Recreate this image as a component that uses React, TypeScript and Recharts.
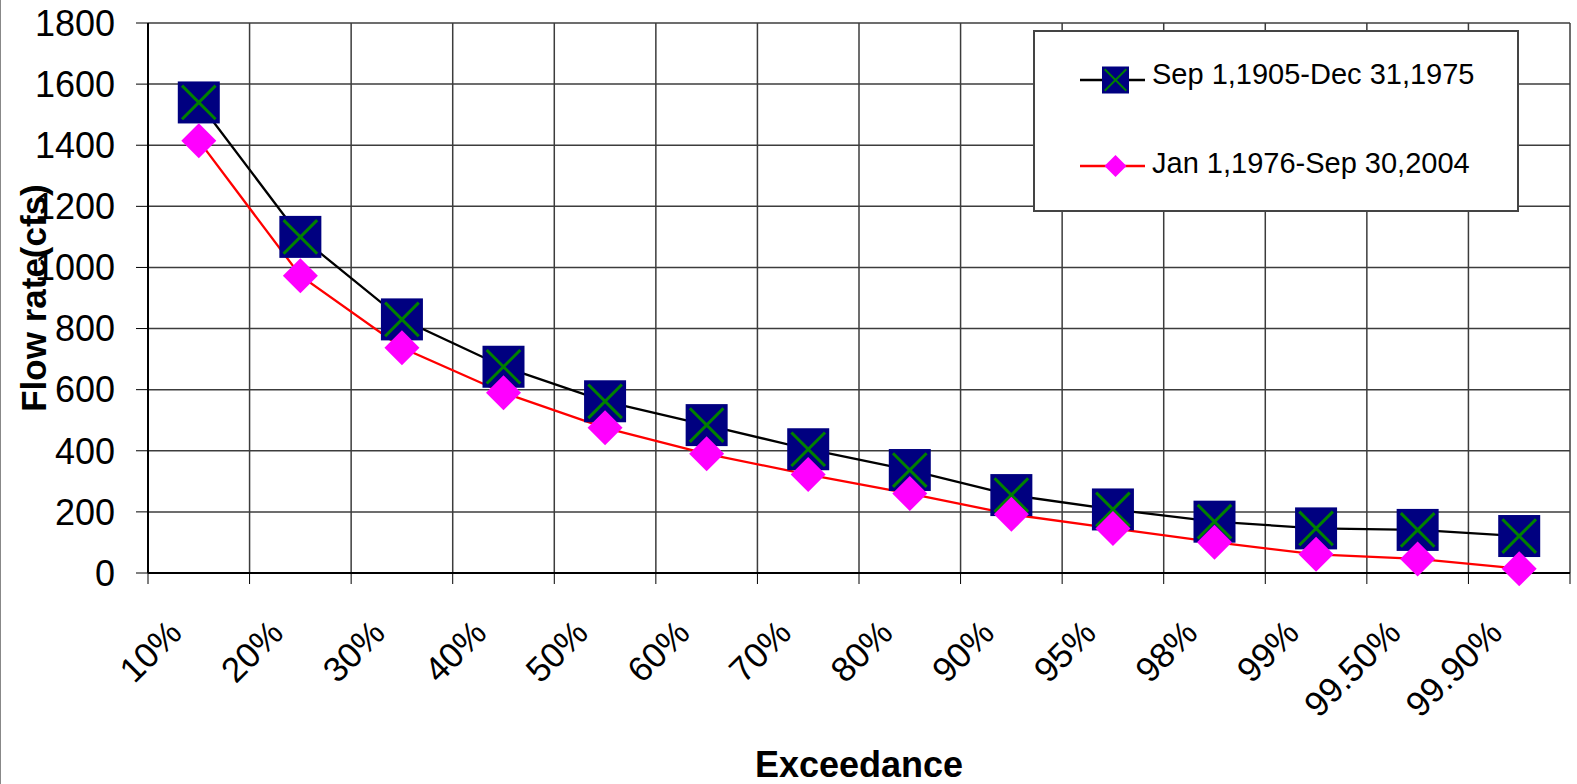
import { CartesianGrid, Legend, Line, LineChart, XAxis, YAxis } from 'recharts'

const EXCEEDANCE = ['10%', '20%', '30%', '40%', '50%', '60%', '70%', '80%', '90%', '95%', '98%', '99%', '99.50%', '99.90%']
const FLOW_1905_1975 = [1540, 1100, 830, 675, 562, 484, 405, 337, 255, 208, 168, 146, 141, 121]
const FLOW_1976_2004 = [1415, 973, 737, 590, 475, 390, 322, 260, 192, 146, 101, 61, 46, 14]
const FLOW_TICKS = [0, 200, 400, 600, 800, 1000, 1200, 1400, 1600, 1800]
const SERIES_NAMES = ['Sep 1,1905-Dec 31,1975', 'Jan 1,1976-Sep 30,2004']

const data = EXCEEDANCE.map((cat, i) => ({
  cat,
  early: FLOW_1905_1975[i],
  late: FLOW_1976_2004[i],
}))

const FONT = '"Liberation Sans", Arial, sans-serif'
const W = 1577
const H = 784
const MARGIN = { top: 23, right: 7, bottom: 0, left: 0 }
const Y_AXIS_W = 148
const X_AXIS_H = 211
const PLOT_W = W - MARGIN.left - MARGIN.right - Y_AXIS_W
const BAND = PLOT_W / EXCEEDANCE.length

function SquareX({ cx, cy, size }: { cx: number; cy: number; size: number }) {
  const h = size / 2
  const a = h * 0.8
  return (
    <g>
      <rect x={cx - h} y={cy - h} width={size} height={size} fill="#000080" />
      <path
        d={`M${cx - a},${cy - a}L${cx + a},${cy + a}M${cx - a},${cy + a}L${cx + a},${cy - a}`}
        stroke="#008000"
        strokeWidth={size / 14}
      />
    </g>
  )
}

function Diamond({ cx, cy, size }: { cx: number; cy: number; size: number }) {
  const h = size / 2
  return <path d={`M${cx},${cy - h}L${cx + h},${cy}L${cx},${cy + h}L${cx - h},${cy}Z`} fill="#FF00FF" />
}

// category labels sit under the band centre, tick marks on the band edges
function ExceedanceTick(props: any) {
  const { x, y, payload, index } = props
  const half = BAND / 2
  const tx = x - 15
  const ty = y + 62
  return (
    <g>
      <line x1={x - half} y1={y} x2={x - half} y2={y + 11} stroke="#000" />
      {index === EXCEEDANCE.length - 1 && (
        <line x1={x + half} y1={y} x2={x + half} y2={y + 11} stroke="#000" />
      )}
      <text
        x={tx}
        y={ty}
        textAnchor="end"
        transform={`rotate(-45 ${tx} ${ty})`}
        fontSize={35}
        fontFamily={FONT}
        fill="#000"
      >
        {payload.value}
      </text>
    </g>
  )
}

function LegendBox() {
  return (
    <svg width={486} height={182} style={{ display: 'block' }}>
      <rect x={1} y={1} width={484} height={180} fill="#fff" stroke="#444" strokeWidth={2} />
      <line x1={47} y1={50} x2={112} y2={50} stroke="#000" strokeWidth={2.3} />
      <SquareX cx={82.5} cy={50} size={27} />
      <text x={119} y={54} fontSize={29} fontFamily={FONT} fill="#000">
        {SERIES_NAMES[0]}
      </text>
      <line x1={47} y1={136} x2={112} y2={136} stroke="#FF0000" strokeWidth={2.3} />
      <Diamond cx={82.5} cy={136} size={22} />
      <text x={119} y={143} fontSize={29} fontFamily={FONT} fill="#000">
        {SERIES_NAMES[1]}
      </text>
    </svg>
  )
}

export default function App() {
  return (
    <div style={{ position: 'absolute', left: 0, top: 0, width: W, height: H, background: '#fff' }}>
      <div style={{ position: 'absolute', left: 0, top: 0, width: 1, height: H, background: '#888' }} />
      <LineChart width={W} height={H} data={data} margin={MARGIN}>
        <CartesianGrid
          stroke="#3c3c3c"
          strokeWidth={1.5}
          verticalCoordinatesGenerator={({ offset }: any) =>
            Array.from({ length: EXCEEDANCE.length + 1 }, (_, k) => offset.left + (k * offset.width) / EXCEEDANCE.length)
          }
        />
        <XAxis
          dataKey="cat"
          scale="band"
          height={X_AXIS_H}
          interval={0}
          tickLine={false}
          tickSize={0}
          tickMargin={0}
          axisLine={{ stroke: '#000', strokeWidth: 2 }}
          tick={<ExceedanceTick />}
          label={({ viewBox }: any) => (
            <text
              x={viewBox.x + viewBox.width / 2}
              y={777}
              textAnchor="middle"
              fontSize={36}
              fontWeight="bold"
              fontFamily={FONT}
              fill="#000"
            >
              Exceedance
            </text>
          )}
        />
        <YAxis
          width={Y_AXIS_W}
          domain={[0, 1800]}
          ticks={FLOW_TICKS}
          interval={0}
          tickSize={12}
          tickMargin={21}
          axisLine={{ stroke: '#000', strokeWidth: 2 }}
          tickLine={{ stroke: '#000' }}
          tick={{ fill: '#000', fontSize: 36, fontFamily: FONT }}
          label={({ viewBox }: any) => (
            <text
              x={33}
              y={viewBox.y + viewBox.height / 2}
              textAnchor="middle"
              dominantBaseline="central"
              transform={`rotate(-90 33 ${viewBox.y + viewBox.height / 2})`}
              fontSize={35}
              fontWeight="bold"
              fontFamily={FONT}
              fill="#000"
            >
              Flow rate(cfs)
            </text>
          )}
        />
        <Legend
          layout="vertical"
          align="center"
          verticalAlign="middle"
          content={<LegendBox />}
          wrapperStyle={{ left: 1033, top: 30, width: 486, height: 182 }}
        />
        <Line
          name={SERIES_NAMES[0]}
          dataKey="early"
          type="linear"
          stroke="#000"
          strokeWidth={2.3}
          isAnimationActive={false}
          dot={(p: any) => <SquareX key={`sq-${p.index}`} cx={p.cx} cy={p.cy} size={42} />}
          activeDot={false}
        />
        <Line
          name={SERIES_NAMES[1]}
          dataKey="late"
          type="linear"
          stroke="#FF0000"
          strokeWidth={2.3}
          isAnimationActive={false}
          dot={(p: any) => <Diamond key={`dm-${p.index}`} cx={p.cx} cy={p.cy} size={35} />}
          activeDot={false}
        />
      </LineChart>
    </div>
  )
}
